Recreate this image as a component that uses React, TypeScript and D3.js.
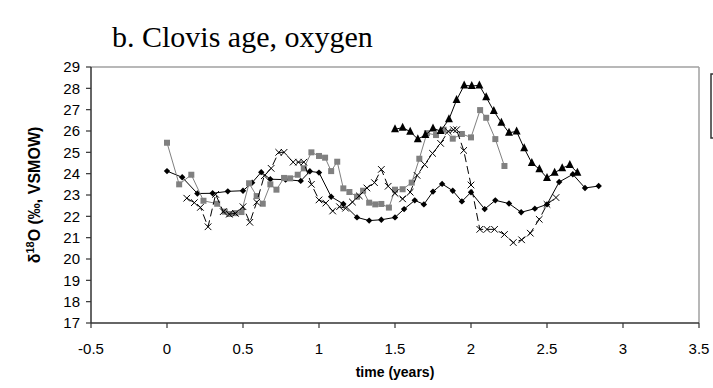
import React from 'react';
import * as d3 from 'd3';

const titleText = 'b. Clovis age, oxygen';
const xTickValues = [-0.5, 0, 0.5, 1, 1.5, 2, 2.5, 3, 3.5];
const yTickValues = [17, 18, 19, 20, 21, 22, 23, 24, 25, 26, 27, 28, 29];

// Series A: black diamonds, solid line
const aTime = [0.00, 0.10, 0.20, 0.30, 0.40, 0.50, 0.56, 0.62, 0.68, 0.78, 0.88, 0.94, 1.00, 1.08, 1.16, 1.25, 1.33, 1.41, 1.50, 1.56, 1.63, 1.69, 1.75, 1.81, 1.88, 1.94, 2.00, 2.09, 2.16, 2.25, 2.33, 2.42, 2.50, 2.58, 2.67, 2.75, 2.84];
const aValue = [24.12, 23.83, 23.07, 23.08, 23.17, 23.20, 23.58, 24.07, 23.74, 23.72, 23.66, 24.11, 24.05, 22.92, 22.58, 21.95, 21.80, 21.84, 21.95, 22.34, 22.75, 22.56, 23.16, 23.52, 23.20, 22.70, 23.13, 22.34, 22.75, 22.60, 22.19, 22.36, 22.56, 23.61, 23.97, 23.33, 23.42];

// Series B: grey squares
const bTime = [0.00, 0.08, 0.16, 0.24, 0.33, 0.38, 0.41, 0.45, 0.49, 0.54, 0.59, 0.63, 0.68, 0.72, 0.77, 0.81, 0.86, 0.90, 0.95, 1.00, 1.04, 1.08, 1.12, 1.16, 1.20, 1.25, 1.29, 1.33, 1.37, 1.41, 1.46, 1.50, 1.55, 1.61, 1.66, 1.71, 1.77, 1.82, 1.88, 1.94, 2.00, 2.06, 2.10, 2.16, 2.22];
const bValue = [25.45, 23.50, 23.95, 22.73, 22.59, 22.22, 22.11, 22.15, 22.20, 23.55, 22.95, 22.59, 23.50, 23.25, 23.80, 23.78, 23.95, 24.25, 25.00, 24.83, 24.75, 24.12, 24.56, 23.31, 23.14, 22.92, 23.20, 22.64, 22.56, 22.58, 22.41, 23.25, 23.27, 23.58, 24.70, 25.90, 25.81, 26.06, 25.64, 25.86, 25.70, 26.98, 26.62, 25.62, 24.36];

// Series C: crosses, dashed line
const cTime = [0.13, 0.18, 0.22, 0.27, 0.32, 0.37, 0.41, 0.45, 0.50, 0.545, 0.59, 0.64, 0.685, 0.735, 0.77, 0.83, 0.865, 0.90, 0.95, 1.00, 1.045, 1.09, 1.135, 1.175, 1.22, 1.265, 1.315, 1.365, 1.41, 1.455, 1.50, 1.55, 1.60, 1.645, 1.695, 1.747, 1.80, 1.85, 1.885, 1.905, 1.952, 2.00, 2.058, 2.105, 2.155, 2.22, 2.278, 2.333, 2.39, 2.449, 2.50, 2.559];
const cValue = [22.85, 22.64, 22.42, 21.51, 23.03, 22.22, 22.10, 22.14, 22.45, 21.72, 22.66, 23.90, 24.25, 25.00, 25.00, 24.54, 24.54, 24.54, 23.50, 22.77, 22.62, 22.25, 22.45, 22.38, 22.67, 22.96, 23.33, 23.58, 24.20, 23.41, 23.08, 22.82, 23.13, 23.92, 24.43, 24.95, 25.42, 25.98, 26.06, 26.06, 25.09, 23.47, 21.39, 21.39, 21.39, 21.15, 20.77, 20.90, 21.21, 21.86, 22.56, 22.88];

// Series D: black triangles
const dTime = [1.50, 1.55, 1.60, 1.65, 1.70, 1.75, 1.80, 1.855, 1.905, 1.955, 2.005, 2.055, 2.10, 2.15, 2.20, 2.25, 2.30, 2.35, 2.40, 2.45, 2.50, 2.55, 2.60, 2.65, 2.70];
const dValue = [26.08, 26.16, 25.97, 25.62, 25.81, 26.12, 26.00, 26.55, 27.45, 28.14, 28.11, 28.14, 27.58, 26.94, 26.39, 25.92, 25.98, 25.19, 24.50, 24.21, 23.80, 24.04, 24.26, 24.41, 24.05];

const W = 713;
const H = 388;
const left = 91, right = 699, top = 67, bottom = 323;
const sans = "'Liberation Sans', Arial, sans-serif";
const serif = "'Liberation Serif', 'Times New Roman', serif";

type Pt = [number, number];
const zip = (xs: number[], ys: number[]): Pt[] => xs.map((v, i) => [v, ys[i]]);

export default function App() {
  const x = d3.scaleLinear().domain([-0.5, 3.5]).range([left, right]);
  const y = d3.scaleLinear().domain([17, 29]).range([bottom, top]);
  const line = d3.line<Pt>().x(d => x(d[0])).y(d => y(d[1]));

  const a = zip(aTime, aValue);
  const b = zip(bTime, bValue);
  const c = zip(cTime, cValue);
  const dd = zip(dTime, dValue);

  const diamond = (cx: number, cy: number, r: number) => `M${cx},${cy - r}L${cx + r},${cy}L${cx},${cy + r}L${cx - r},${cy}Z`;
  const tri = (cx: number, cy: number, s: number) => `M${cx},${cy - s * 0.62}L${cx + s / 2},${cy + s * 0.38}L${cx - s / 2},${cy + s * 0.38}Z`;
  const cross = (cx: number, cy: number, r: number) => `M${cx - r},${cy - r}L${cx + r},${cy + r}M${cx - r},${cy + r}L${cx + r},${cy - r}`;

  return (
    <svg width={W} height={H} style={{ position: 'absolute', left: 0, top: 0, background: '#fff' }}>
      <rect x={0} y={0} width={W} height={H} fill="#fff" />
      <text x={112} y={47} fontFamily={serif} fontSize={30} fill="#000">{titleText}</text>

      {/* plot frame */}
      <line x1={left} y1={top} x2={right} y2={top} stroke="#a0a0a0" strokeWidth={1.5} />
      <line x1={right} y1={top} x2={right} y2={bottom} stroke="#a0a0a0" strokeWidth={1.5} />
      <line x1={left} y1={top} x2={left} y2={bottom} stroke="#333" strokeWidth={1.5} />
      <line x1={left} y1={bottom} x2={right} y2={bottom} stroke="#333" strokeWidth={1.5} />

      {yTickValues.map(v => (
        <g key={'y' + v}>
          <line x1={left - 5} x2={left} y1={y(v)} y2={y(v)} stroke="#333" strokeWidth={1.2} />
          <text x={left - 11} y={y(v)} dy="0.36em" textAnchor="end" fontFamily={sans} fontSize={15} fill="#000">{v}</text>
        </g>
      ))}
      {xTickValues.map(v => (
        <g key={'x' + v}>
          <line x1={x(v)} x2={x(v)} y1={bottom} y2={bottom + 5} stroke="#333" strokeWidth={1.2} />
          <text x={x(v)} y={354} textAnchor="middle" fontFamily={sans} fontSize={15} fill="#000">{String(v)}</text>
        </g>
      ))}

      <text x={(left + right) / 2} y={377} textAnchor="middle" fontFamily={sans} fontSize={14} fontWeight="bold" fill="#000">time (years)</text>
      <text transform={`translate(40,${(top + bottom) / 2}) rotate(-90)`} textAnchor="middle" fontFamily={sans} fontSize={16} fontWeight="bold" fill="#000">
        δ<tspan dy={-6} fontSize={11}>18</tspan><tspan dy={6}>O (‰, VSMOW)</tspan>
      </text>

      {/* legend box (cut off) */}
      <rect x={711} y={74} width={10} height={64} fill="#fff" stroke="#333" strokeWidth={1.5} />

      {/* Series A */}
      <path d={line(a) || ''} fill="none" stroke="#000" strokeWidth={1} />
      {a.map((p, i) => <path key={'a' + i} d={diamond(x(p[0]), y(p[1]), 3.2)} fill="#000" />)}

      {/* Series B */}
      <path d={line(b) || ''} fill="none" stroke="#808080" strokeWidth={1} />
      {b.map((p, i) => <rect key={'b' + i} x={x(p[0]) - 3} y={y(p[1]) - 3} width={6} height={6} fill="#808080" />)}

      {/* Series C */}
      <path d={line(c) || ''} fill="none" stroke="#000" strokeWidth={1} strokeDasharray="8,4" />
      {c.map((p, i) => <path key={'c' + i} d={cross(x(p[0]), y(p[1]), 3.3)} stroke="#000" strokeWidth={1} fill="none" />)}

      {/* Series D */}
      <path d={line(dd) || ''} fill="none" stroke="#000" strokeWidth={1} />
      {dd.map((p, i) => <path key={'d' + i} d={tri(x(p[0]), y(p[1]), 8)} fill="#000" />)}
    </svg>
  );
}
